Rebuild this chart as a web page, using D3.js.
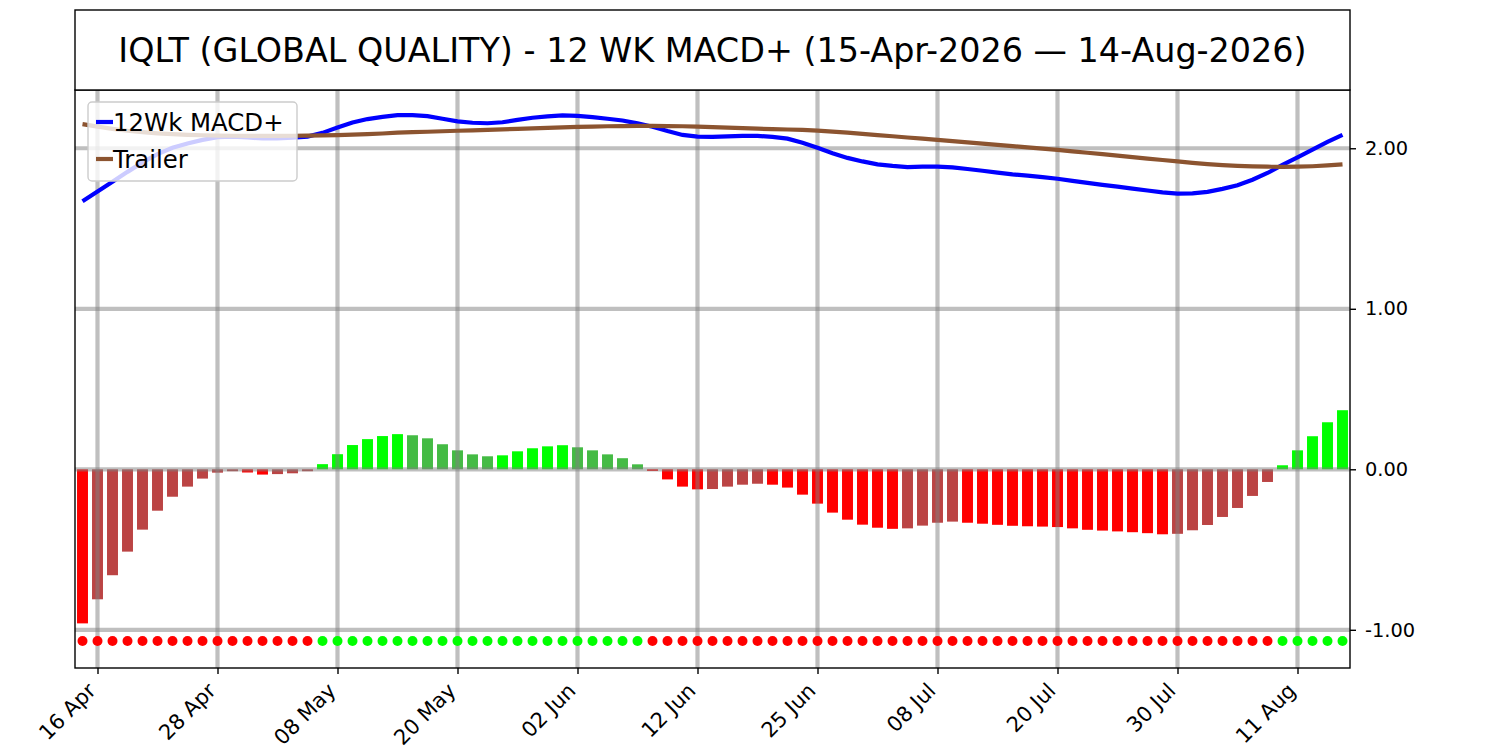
<!DOCTYPE html>
<html>
<head>
<meta charset="utf-8">
<script src="https://cdn.jsdelivr.net/npm/d3@7"></script>
<style>
  body { margin: 0; background: #fff; }
  svg { font-family: "DejaVu Sans", sans-serif; }
</style>
</head>
<body>
<script>
// trading days shown on the chart (one bar / dot per day)
const dates = [
  "2026-04-15","2026-04-16","2026-04-17","2026-04-20","2026-04-21","2026-04-22","2026-04-23","2026-04-24","2026-04-27","2026-04-28","2026-04-29","2026-04-30",
  "2026-05-01","2026-05-04","2026-05-05","2026-05-06","2026-05-07","2026-05-08","2026-05-11","2026-05-12","2026-05-13","2026-05-14","2026-05-15","2026-05-18","2026-05-19","2026-05-20","2026-05-21","2026-05-22","2026-05-26","2026-05-27","2026-05-28","2026-05-29",
  "2026-06-01","2026-06-02","2026-06-03","2026-06-04","2026-06-05","2026-06-08","2026-06-09","2026-06-10","2026-06-11","2026-06-12","2026-06-15","2026-06-16","2026-06-17","2026-06-18","2026-06-22","2026-06-23","2026-06-24","2026-06-25","2026-06-26","2026-06-29","2026-06-30",
  "2026-07-01","2026-07-02","2026-07-06","2026-07-07","2026-07-08","2026-07-09","2026-07-10","2026-07-13","2026-07-14","2026-07-15","2026-07-16","2026-07-17","2026-07-20","2026-07-21","2026-07-22","2026-07-23","2026-07-24","2026-07-27","2026-07-28","2026-07-29","2026-07-30","2026-07-31",
  "2026-08-03","2026-08-04","2026-08-05","2026-08-06","2026-08-07","2026-08-10","2026-08-11","2026-08-12","2026-08-13","2026-08-14"
];

// 12 week MACD+ line
const macd = [
  1.670,1.730,1.791,1.853,1.912,1.964,2.003,2.030,2.052,2.069,2.072,2.067,2.061,2.062,2.066,2.073,
  2.096,2.129,2.161,2.182,2.196,2.207,2.206,2.200,2.184,2.168,2.159,2.156,2.162,2.177,2.190,2.199,
  2.205,2.202,2.194,2.184,2.173,2.155,2.134,2.107,2.083,2.073,2.071,2.074,2.077,2.077,2.071,2.060,
  2.035,2.003,1.969,1.940,1.918,1.900,1.890,1.883,1.885,1.886,1.881,1.871,1.860,1.848,1.837,1.829,
  1.820,1.810,1.797,1.784,1.772,1.761,1.749,1.737,1.725,1.717,1.719,1.728,1.747,1.770,1.804,1.846,
  1.897,1.944,1.991,2.040,2.084
];

// trailer line
const trailer = [
  2.150,2.135,2.121,2.109,2.100,2.093,2.088,2.084,2.081,2.079,2.078,2.077,2.077,2.077,2.078,2.079,
  2.080,2.082,2.085,2.088,2.092,2.097,2.100,2.103,2.106,2.109,2.112,2.115,2.118,2.121,2.124,2.127,
  2.130,2.133,2.135,2.137,2.138,2.139,2.139,2.138,2.137,2.135,2.132,2.128,2.125,2.122,2.119,2.117,
  2.114,2.110,2.104,2.097,2.090,2.082,2.075,2.067,2.060,2.052,2.044,2.037,2.029,2.021,2.013,2.006,
  1.998,1.990,1.981,1.972,1.963,1.954,1.945,1.936,1.927,1.918,1.909,1.901,1.895,1.890,1.887,1.885,
  1.884,1.885,1.888,1.893,1.900
];

// histogram bars
const hist = [
  -0.960,-0.810,-0.660,-0.513,-0.376,-0.258,-0.171,-0.108,-0.058,-0.021,-0.012,-0.020,-0.033,-0.030,-0.025,-0.012,
  0.032,0.094,0.151,0.188,0.207,0.219,0.212,0.193,0.156,0.118,0.093,0.081,0.087,0.112,0.131,0.143,
  0.150,0.137,0.118,0.093,0.069,0.031,-0.010,-0.063,-0.108,-0.125,-0.123,-0.108,-0.096,-0.090,-0.096,-0.114,
  -0.158,-0.214,-0.270,-0.314,-0.345,-0.364,-0.371,-0.368,-0.351,-0.333,-0.326,-0.333,-0.339,-0.346,-0.352,-0.355,
  -0.357,-0.360,-0.368,-0.377,-0.382,-0.387,-0.392,-0.398,-0.405,-0.402,-0.380,-0.347,-0.297,-0.241,-0.166,-0.079,
  0.025,0.118,0.206,0.293,0.368
];

const dotLevel = -1.07;   // row of signal dots
const tickDates = ["2026-04-16","2026-04-28","2026-05-08","2026-05-20","2026-06-02","2026-06-12","2026-06-25","2026-07-08","2026-07-20","2026-07-30","2026-08-11"];
const yTicks = [-1, 0, 1, 2];
const titleText = "IQLT (GLOBAL QUALITY) - 12 WK MACD+ (15-Apr-2026 \u2014 14-Aug-2026)";
const seriesNames = ["12Wk MACD+", "Trailer"];

const width = 1500, height = 750;
const plot = {left: 75, right: 1350, top: 90, bottom: 668};

const parse = d3.timeParse("%Y-%m-%d");
const fmt = d3.timeFormat("%d %b");

const svg = d3.select("body").append("svg")
  .attr("width", width)
  .attr("height", height);

const x = d3.scalePoint().domain(dates).range([plot.left, plot.right]).padding(0.5);
const y = d3.scaleLinear().domain([-1.238, 2.363]).range([plot.bottom, plot.top]);
const bw = x.step() * 0.73;

svg.append("clipPath").attr("id", "clip")
  .append("rect")
  .attr("x", plot.left).attr("y", plot.top)
  .attr("width", plot.right - plot.left).attr("height", plot.bottom - plot.top);

const g = svg.append("g").attr("clip-path", "url(#clip)");

// bar colour: bright when moving away from zero, dull when moving back
function barColor(h, i) {
  const prev = i > 0 ? hist[i - 1] : h + 1;
  if (h >= 0) return h > prev ? "#00ff00" : "#44bb44";
  return h < prev ? "#ff0000" : "#bb4444";
}

g.selectAll("rect.bar")
  .data(hist)
  .enter().append("rect")
  .attr("class", "bar")
  .attr("x", (d, i) => x(dates[i]) - bw / 2)
  .attr("y", d => y(Math.max(0, d)))
  .attr("width", bw)
  .attr("height", d => Math.abs(y(d) - y(0)))
  .attr("fill", barColor);

// grid on top of the bars
g.selectAll("line.vgrid")
  .data(tickDates)
  .enter().append("line")
  .attr("x1", d => x(d)).attr("x2", d => x(d))
  .attr("y1", plot.top).attr("y2", plot.bottom)
  .attr("stroke", "#808080").attr("stroke-opacity", 0.5).attr("stroke-width", 4.2);

g.selectAll("line.hgrid")
  .data(yTicks)
  .enter().append("line")
  .attr("x1", plot.left).attr("x2", plot.right)
  .attr("y1", d => y(d)).attr("y2", d => y(d))
  .attr("stroke", "#808080").attr("stroke-opacity", 0.5).attr("stroke-width", 4.2);

const line = d3.line()
  .x((d, i) => x(dates[i]))
  .y(d => y(d));

g.append("path").datum(macd)
  .attr("d", line)
  .attr("fill", "none").attr("stroke", "#0000ff").attr("stroke-width", 4.2);

g.append("path").datum(trailer)
  .attr("d", line)
  .attr("fill", "none").attr("stroke", "#8c5430").attr("stroke-width", 4.2);

g.selectAll("circle.dot")
  .data(hist)
  .enter().append("circle")
  .attr("cx", (d, i) => x(dates[i]))
  .attr("cy", y(dotLevel))
  .attr("r", 5)
  .attr("fill", d => d >= 0 ? "#00ff00" : "#ff0000");

// frame
svg.append("rect")
  .attr("x", plot.left).attr("y", plot.top)
  .attr("width", plot.right - plot.left).attr("height", plot.bottom - plot.top)
  .attr("fill", "none").attr("stroke", "#000").attr("stroke-width", 1.4);

// x axis
const xAxis = svg.append("g")
  .attr("transform", "translate(0," + plot.bottom + ")")
  .call(d3.axisBottom(x).tickValues(tickDates).tickSize(6).tickFormat(d => fmt(parse(d))));
xAxis.select(".domain").remove();
xAxis.selectAll(".tick line").attr("stroke", "#000").attr("stroke-width", 1.4);
xAxis.selectAll(".tick text")
  .attr("font-size", 21)
  .attr("font-family", "DejaVu Sans")
  .attr("fill", "#000")
  .attr("text-anchor", "end")
  .attr("dy", null)
  .attr("y", null)
  .attr("transform", "translate(-1,24) rotate(-45)");

// y axis on the right
const yAxis = svg.append("g")
  .attr("transform", "translate(" + plot.right + ",0)")
  .call(d3.axisRight(y).tickValues(yTicks).tickSize(6).tickPadding(9).tickFormat(d => d.toFixed(2)));
yAxis.select(".domain").remove();
yAxis.selectAll(".tick line").attr("stroke", "#000").attr("stroke-width", 1.4);
yAxis.selectAll(".tick text")
  .attr("font-size", 19.4)
  .attr("font-family", "DejaVu Sans")
  .attr("fill", "#000");

// title box
svg.append("rect")
  .attr("x", plot.left).attr("y", 10)
  .attr("width", plot.right - plot.left).attr("height", plot.top - 10)
  .attr("fill", "#fff").attr("stroke", "#000").attr("stroke-width", 1.4);

svg.append("text")
  .attr("x", (plot.left + plot.right) / 2)
  .attr("y", 50)
  .attr("text-anchor", "middle")
  .attr("dominant-baseline", "central")
  .attr("font-size", 33.4)
  .text(titleText);

// legend
const legend = svg.append("g").attr("transform", "translate(88,102)");
legend.append("rect")
  .attr("width", 209).attr("height", 79)
  .attr("rx", 4)
  .attr("fill", "#fff").attr("fill-opacity", 0.8)
  .attr("stroke", "#cccccc").attr("stroke-width", 1.4);

const legendColors = ["#0000ff", "#8c5430"];
seriesNames.forEach((name, i) => {
  const ly = 20 + i * 37;
  legend.append("line")
    .attr("x1", 8).attr("x2", 25)
    .attr("y1", ly).attr("y2", ly)
    .attr("stroke", legendColors[i]).attr("stroke-width", 4.2);
  legend.append("text")
    .attr("x", 25).attr("y", ly)
    .attr("dominant-baseline", "central")
    .attr("font-size", 24.4)
    .text(name);
});
</script>
</body>
</html>
